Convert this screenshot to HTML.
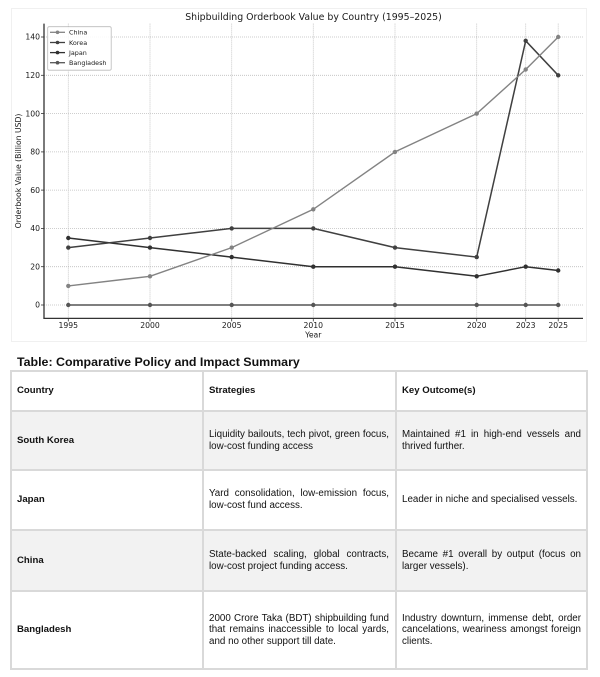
<!DOCTYPE html>
<html><head><meta charset="utf-8"><style>
html,body{margin:0;padding:0;background:#fff;}
body{width:600px;height:677px;position:relative;overflow:hidden;font-family:"Liberation Sans",sans-serif;color:#111;}
#chart{position:absolute;left:0;top:0;}
.ttl{position:absolute;left:17px;top:355px;font-weight:bold;font-size:12.4px;white-space:nowrap;color:#111;}
.cell{position:absolute;box-sizing:border-box;display:flex;align-items:center;font-size:9.8px;line-height:11.6px;}
.bg{background:#f2f2f2;}
.b{font-weight:bold;font-size:9.6px;}
.hl{position:absolute;background:#d9d9d9;}
.t{width:100%;}
.t span{display:block;white-space:nowrap;}
.j{text-align:justify;text-align-last:justify;white-space:normal!important;}
</style></head><body>
<svg id="chart" width="600" height="345" viewBox="0 0 600 345" xmlns="http://www.w3.org/2000/svg" font-family="DejaVu Sans, sans-serif">
<rect x="11.5" y="8.5" width="575" height="333" fill="#fff" stroke="#f0f0f0" stroke-width="1"/>
<text x="313.5" y="20" text-anchor="middle" font-size="9.4" fill="#1a1a1a">Shipbuilding Orderbook Value by Country (1995–2025)</text>
<g stroke="#bdbdbd" stroke-width="0.8" stroke-dasharray="1,1">
<line x1="44" x2="583" y1="37" y2="37"/><line x1="44" x2="583" y1="75.3" y2="75.3"/><line x1="44" x2="583" y1="113.6" y2="113.6"/><line x1="44" x2="583" y1="151.9" y2="151.9"/><line x1="44" x2="583" y1="190.1" y2="190.1"/><line x1="44" x2="583" y1="228.4" y2="228.4"/><line x1="44" x2="583" y1="266.7" y2="266.7"/><line x1="44" x2="583" y1="305" y2="305"/>
<line y1="23.6" y2="318" x1="68.3" x2="68.3"/><line y1="23.6" y2="318" x1="150" x2="150"/><line y1="23.6" y2="318" x1="231.7" x2="231.7"/><line y1="23.6" y2="318" x1="313.3" x2="313.3"/><line y1="23.6" y2="318" x1="395" x2="395"/><line y1="23.6" y2="318" x1="476.7" x2="476.7"/><line y1="23.6" y2="318" x1="525.7" x2="525.7"/><line y1="23.6" y2="318" x1="558.2" x2="558.2"/>
</g>
<g stroke="#333" stroke-width="1.3" fill="none">
<line x1="44" y1="23.6" x2="44" y2="318.6"/><line x1="43.4" y1="318.4" x2="583" y2="318.4"/>
</g>
<g stroke="#333" stroke-width="0.8">
<line x1="41" x2="44" y1="37" y2="37"/><line x1="41" x2="44" y1="75.3" y2="75.3"/><line x1="41" x2="44" y1="113.6" y2="113.6"/><line x1="41" x2="44" y1="151.9" y2="151.9"/><line x1="41" x2="44" y1="190.1" y2="190.1"/><line x1="41" x2="44" y1="228.4" y2="228.4"/><line x1="41" x2="44" y1="266.7" y2="266.7"/><line x1="41" x2="44" y1="305" y2="305"/>
<line y1="318.4" y2="321.4" x1="68.3" x2="68.3"/><line y1="318.4" y2="321.4" x1="150" x2="150"/><line y1="318.4" y2="321.4" x1="231.7" x2="231.7"/><line y1="318.4" y2="321.4" x1="313.3" x2="313.3"/><line y1="318.4" y2="321.4" x1="395" x2="395"/><line y1="318.4" y2="321.4" x1="476.7" x2="476.7"/><line y1="318.4" y2="321.4" x1="525.7" x2="525.7"/><line y1="318.4" y2="321.4" x1="558.2" x2="558.2"/>
</g>
<g font-size="7.7" fill="#1a1a1a" text-anchor="end">
<text x="40" y="39.7">140</text><text x="40" y="78">120</text><text x="40" y="116.3">100</text><text x="40" y="154.6">80</text><text x="40" y="192.8">60</text><text x="40" y="231.1">40</text><text x="40" y="269.4">20</text><text x="40" y="307.7">0</text>
</g>
<g font-size="7.7" fill="#1a1a1a" text-anchor="middle">
<text x="68.3" y="327.8">1995</text><text x="150" y="327.8">2000</text><text x="231.7" y="327.8">2005</text><text x="313.3" y="327.8">2010</text><text x="395" y="327.8">2015</text><text x="476.7" y="327.8">2020</text><text x="525.7" y="327.8">2023</text><text x="558.2" y="327.8">2025</text>
<text x="313.3" y="337.5">Year</text>
<text transform="translate(21,171) rotate(-90)">Orderbook Value (Billion USD)</text>
</g>
<!-- Bangladesh -->
<g stroke="#555" fill="#555" stroke-width="1.5">
<polyline fill="none" points="68.3,305 150,305 231.7,305 313.3,305 395,305 476.7,305 525.7,305 558.2,305"/>
<g stroke="none"><circle cx="68.3" cy="305" r="2.2"/><circle cx="150" cy="305" r="2.2"/><circle cx="231.7" cy="305" r="2.2"/><circle cx="313.3" cy="305" r="2.2"/><circle cx="395" cy="305" r="2.2"/><circle cx="476.7" cy="305" r="2.2"/><circle cx="525.7" cy="305" r="2.2"/><circle cx="558.2" cy="305" r="2.2"/></g>
</g>
<!-- Japan -->
<g stroke="#303030" fill="#303030" stroke-width="1.5">
<polyline fill="none" points="68.3,238 150,247.6 231.7,257.1 313.3,266.7 395,266.7 476.7,276.3 525.7,266.7 558.2,270.5"/>
<g stroke="none"><circle cx="68.3" cy="238" r="2.2"/><circle cx="150" cy="247.6" r="2.2"/><circle cx="231.7" cy="257.1" r="2.2"/><circle cx="313.3" cy="266.7" r="2.2"/><circle cx="395" cy="266.7" r="2.2"/><circle cx="476.7" cy="276.3" r="2.2"/><circle cx="525.7" cy="266.7" r="2.2"/><circle cx="558.2" cy="270.5" r="2.2"/></g>
</g>
<!-- Korea -->
<g stroke="#404040" fill="#404040" stroke-width="1.5">
<polyline fill="none" points="68.3,247.6 150,238 231.7,228.4 313.3,228.4 395,247.6 476.7,257.1 525.7,40.8 558.2,75.3"/>
<g stroke="none"><circle cx="68.3" cy="247.6" r="2.2"/><circle cx="150" cy="238" r="2.2"/><circle cx="231.7" cy="228.4" r="2.2"/><circle cx="313.3" cy="228.4" r="2.2"/><circle cx="395" cy="247.6" r="2.2"/><circle cx="476.7" cy="257.1" r="2.2"/><circle cx="525.7" cy="40.8" r="2.2"/><circle cx="558.2" cy="75.3" r="2.2"/></g>
</g>
<!-- China -->
<g stroke="#838383" fill="#838383" stroke-width="1.4">
<polyline fill="none" points="68.3,285.9 150,276.3 231.7,247.6 313.3,209.3 395,151.9 476.7,113.6 525.7,69.5 558.2,37"/>
<g stroke="none"><circle cx="68.3" cy="285.9" r="2.2"/><circle cx="150" cy="276.3" r="2.2"/><circle cx="231.7" cy="247.6" r="2.2"/><circle cx="313.3" cy="209.3" r="2.2"/><circle cx="395" cy="151.9" r="2.2"/><circle cx="476.7" cy="113.6" r="2.2"/><circle cx="525.7" cy="69.5" r="2.2"/><circle cx="558.2" cy="37" r="2.2"/></g>
</g>
<!-- Legend -->
<rect x="47.7" y="26.7" width="63.5" height="43.5" rx="1.5" fill="#fff" fill-opacity="0.85" stroke="#bbb" stroke-width="0.8"/>
<g stroke-width="1.3">
<line x1="50" x2="65" y1="32.3" y2="32.3" stroke="#838383"/><circle cx="57.5" cy="32.3" r="1.8" fill="#838383"/>
<line x1="50" x2="65" y1="42.5" y2="42.5" stroke="#404040"/><circle cx="57.5" cy="42.5" r="1.8" fill="#404040"/>
<line x1="50" x2="65" y1="52.6" y2="52.6" stroke="#303030"/><circle cx="57.5" cy="52.6" r="1.8" fill="#303030"/>
<line x1="50" x2="65" y1="62.7" y2="62.7" stroke="#555"/><circle cx="57.5" cy="62.7" r="1.8" fill="#555"/>
</g>
<g font-size="6.4" fill="#1a1a1a">
<text x="69" y="34.6">China</text><text x="69" y="44.8">Korea</text><text x="69" y="54.9">Japan</text><text x="69" y="65">Bangladesh</text>
</g>
</svg>

<div class="ttl">Table: Comparative Policy and Impact Summary</div>

<!-- row backgrounds -->
<div class="cell bg" style="left:11px;top:411px;width:576px;height:59px;"></div>
<div class="cell bg" style="left:11px;top:530px;width:576px;height:61px;"></div>

<!-- header -->
<div class="cell b" style="left:17px;top:371px;width:180px;height:40px;">Country</div>
<div class="cell b" style="left:209px;top:371px;width:180px;height:40px;">Strategies</div>
<div class="cell b" style="left:402px;top:371px;width:179px;height:40px;">Key Outcome(s)</div>

<!-- South Korea -->
<div class="cell b" style="left:17px;top:411px;width:180px;height:59px;">South Korea</div>
<div class="cell" style="left:209px;top:411px;width:180px;height:59px;"><div class="t"><span class="j">Liquidity bailouts, tech pivot, green focus,</span><span>low-cost funding access</span></div></div>
<div class="cell" style="left:402px;top:411px;width:179px;height:59px;"><div class="t"><span class="j">Maintained #1 in high-end vessels and</span><span>thrived further.</span></div></div>

<!-- Japan -->
<div class="cell b" style="left:17px;top:470px;width:180px;height:60px;">Japan</div>
<div class="cell" style="left:209px;top:470px;width:180px;height:60px;"><div class="t"><span class="j">Yard consolidation, low-emission focus,</span><span>low-cost fund access.</span></div></div>
<div class="cell" style="left:402px;top:470px;width:179px;height:60px;"><div class="t"><span>Leader in niche and specialised vessels.</span></div></div>

<!-- China -->
<div class="cell b" style="left:17px;top:530px;width:180px;height:61px;">China</div>
<div class="cell" style="left:209px;top:530px;width:180px;height:61px;"><div class="t"><span class="j">State-backed scaling, global contracts,</span><span>low-cost project funding access.</span></div></div>
<div class="cell" style="left:402px;top:530px;width:179px;height:61px;"><div class="t"><span class="j">Became #1 overall by output (focus on</span><span>larger vessels).</span></div></div>

<!-- Bangladesh -->
<div class="cell b" style="left:17px;top:591px;width:180px;height:78px;">Bangladesh</div>
<div class="cell" style="left:209px;top:591px;width:180px;height:78px;"><div class="t"><span class="j">2000 Crore Taka (BDT) shipbuilding fund</span><span class="j">that remains inaccessible to local yards,</span><span>and no other support till date.</span></div></div>
<div class="cell" style="left:402px;top:591px;width:179px;height:78px;"><div class="t"><span class="j">Industry downturn, immense debt, order</span><span class="j">cancelations, weariness amongst foreign</span><span>clients.</span></div></div>

<!-- grid lines -->
<div class="hl" style="left:10px;top:370px;width:578px;height:2px;"></div>
<div class="hl" style="left:10px;top:410px;width:578px;height:2px;"></div>
<div class="hl" style="left:10px;top:469px;width:578px;height:2px;"></div>
<div class="hl" style="left:10px;top:529px;width:578px;height:2px;"></div>
<div class="hl" style="left:10px;top:590px;width:578px;height:2px;"></div>
<div class="hl" style="left:10px;top:668px;width:578px;height:2px;"></div>
<div class="hl" style="left:10px;top:370px;width:2px;height:300px;"></div>
<div class="hl" style="left:202px;top:370px;width:2px;height:300px;"></div>
<div class="hl" style="left:395px;top:370px;width:2px;height:300px;"></div>
<div class="hl" style="left:586px;top:370px;width:2px;height:300px;"></div>
</body></html>
